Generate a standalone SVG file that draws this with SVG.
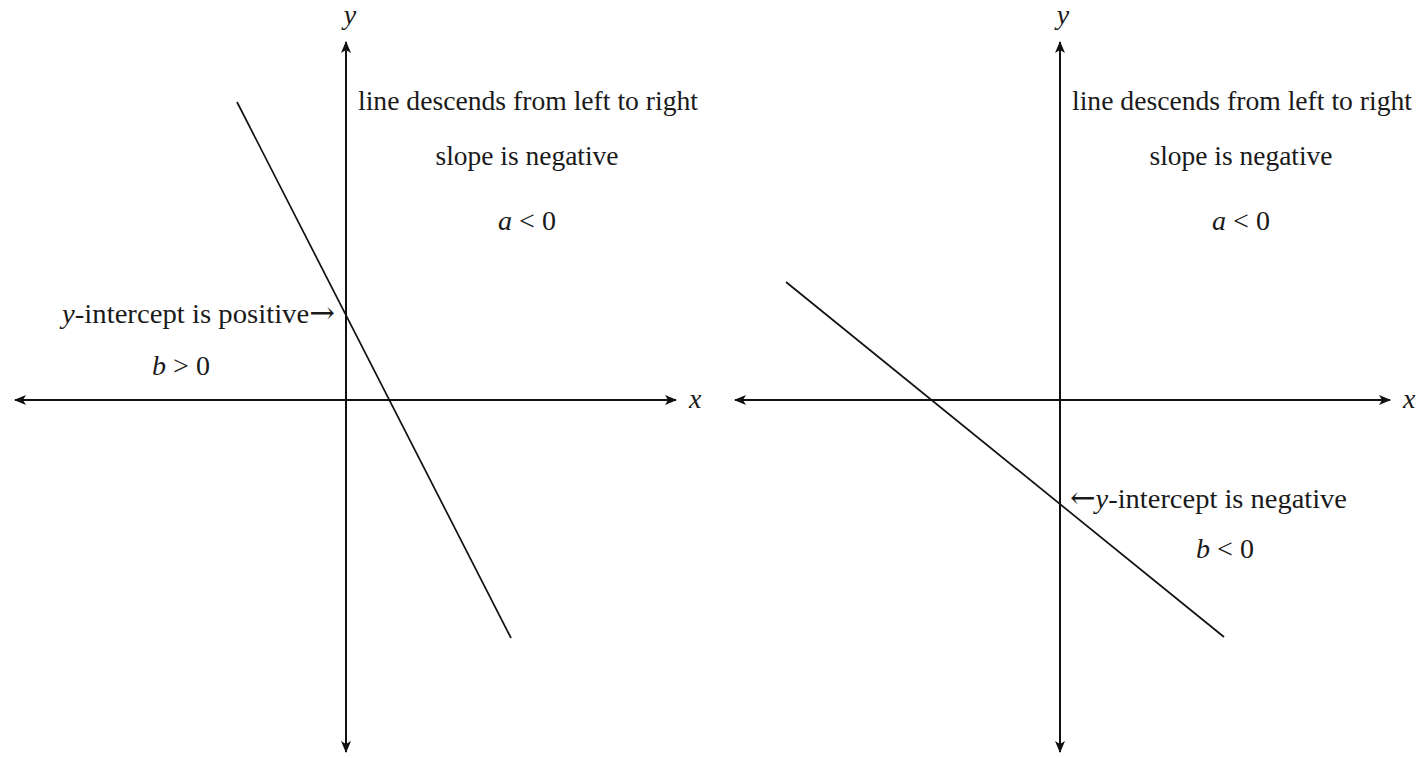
<svg xmlns="http://www.w3.org/2000/svg" width="1425" height="758" viewBox="0 0 1425 758">
<style>
.ax{stroke:#111;stroke-width:2;fill:none}
.ln{stroke:#111;stroke-width:1.7;fill:none}
text{font-family:"Liberation Serif","DejaVu Serif",serif;font-size:28px;fill:#1a1a1a}
.m{font-style:italic}
.c{text-anchor:middle}
.ar{font-family:"DejaVu Serif",serif;font-size:30px}
</style>
<defs>
<marker id="ah" viewBox="0 0 12 10" refX="11" refY="5" markerWidth="12" markerHeight="10" markerUnits="userSpaceOnUse" orient="auto-start-reverse">
<path d="M0,0 L12,5 L0,10 L3,5 Z" fill="#111"/>
</marker>
</defs>
<g id="connectors">
<line class="ax" x1="15" y1="400" x2="676" y2="400" marker-start="url(#ah)" marker-end="url(#ah)"/>
<line class="ax" x1="346" y1="752" x2="346" y2="42" marker-start="url(#ah)" marker-end="url(#ah)"/>
<line class="ln" x1="237" y1="102" x2="511" y2="638"/>
<line class="ax" x1="735" y1="400" x2="1390" y2="400" marker-start="url(#ah)" marker-end="url(#ah)"/>
<line class="ax" x1="1060" y1="752" x2="1060" y2="42" marker-start="url(#ah)" marker-end="url(#ah)"/>
<line class="ln" x1="786" y1="282" x2="1224" y2="637"/>
</g>
<g id="left-labels">
<text class="m c" x="350" y="24">y</text>
<text class="m" x="689" y="408">x</text>
<text x="358" y="110" textLength="340" lengthAdjust="spacingAndGlyphs">line descends from left to right</text>
<text class="c" x="527" y="165" textLength="183" lengthAdjust="spacingAndGlyphs">slope is negative</text>
<text class="c" x="527" y="230"><tspan class="m">a</tspan> &lt; 0</text>
<text x="62" y="323" textLength="273" lengthAdjust="spacingAndGlyphs"><tspan class="m">y</tspan>-intercept is positive<tspan class="ar">→</tspan></text>
<text class="c" x="181" y="375"><tspan class="m">b</tspan> &gt; 0</text>
</g>
<g id="right-labels">
<text class="m c" x="1063" y="24">y</text>
<text class="m" x="1403" y="408">x</text>
<text x="1072" y="110" textLength="340" lengthAdjust="spacingAndGlyphs">line descends from left to right</text>
<text class="c" x="1241" y="165" textLength="183" lengthAdjust="spacingAndGlyphs">slope is negative</text>
<text class="c" x="1241" y="230"><tspan class="m">a</tspan> &lt; 0</text>
<text x="1070" y="508" textLength="277" lengthAdjust="spacingAndGlyphs"><tspan class="ar">←</tspan><tspan class="m">y</tspan>-intercept is negative</text>
<text class="c" x="1225" y="558"><tspan class="m">b</tspan> &lt; 0</text>
</g>
</svg>
